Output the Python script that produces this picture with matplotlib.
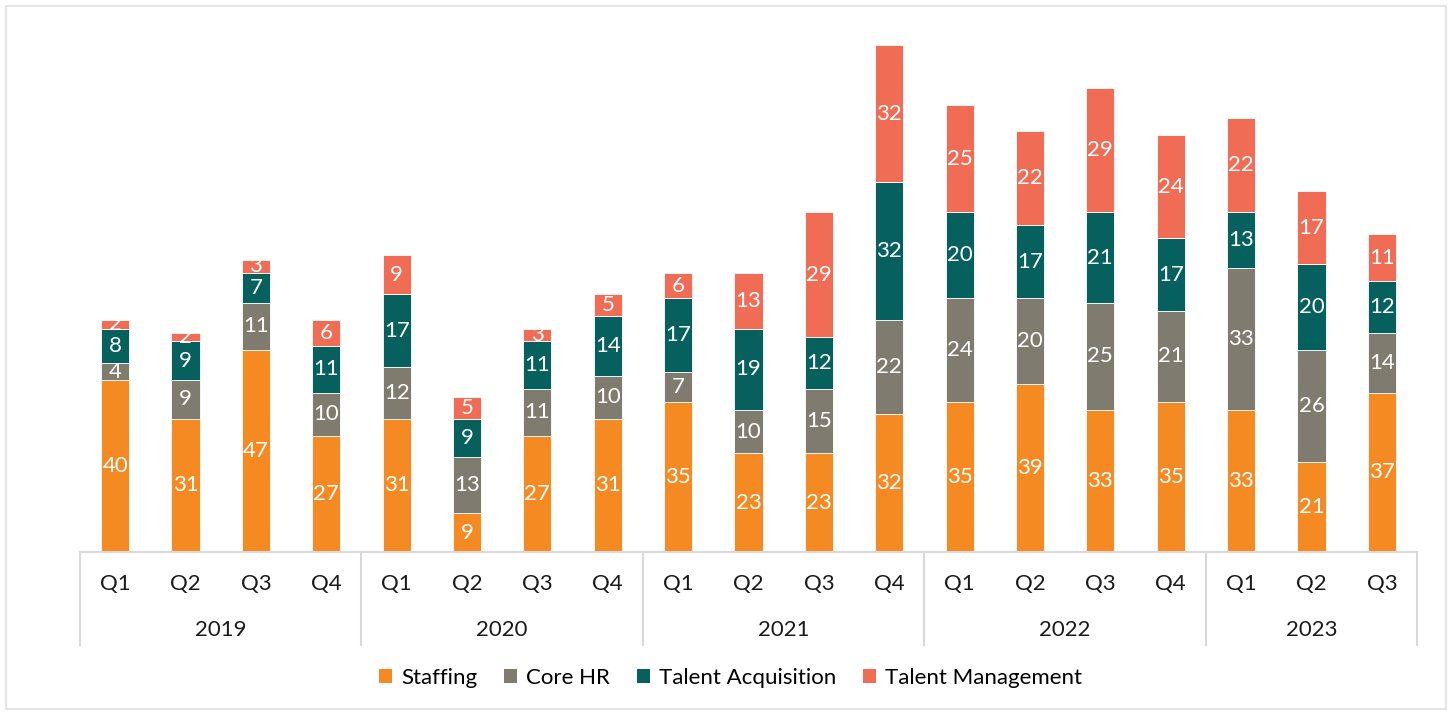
import numpy as np
import matplotlib.pyplot as plt
from matplotlib.patches import Patch, Rectangle
import matplotlib.transforms as mtransforms

plt.rcParams['font.family'] = ['Lato', 'DejaVu Sans']

years = ['2019', '2020', '2021', '2022', '2023']
quarters = ['Q1', 'Q2', 'Q3', 'Q4', 'Q1', 'Q2', 'Q3', 'Q4', 'Q1', 'Q2', 'Q3', 'Q4',
            'Q1', 'Q2', 'Q3', 'Q4', 'Q1', 'Q2', 'Q3']
quarters_per_year = [4, 4, 4, 4, 3]

staffing = [40, 31, 47, 27, 31, 9, 27, 31, 35, 23, 23, 32, 35, 39, 33, 35, 33, 21, 37]
core_hr = [4, 9, 11, 10, 12, 13, 11, 10, 7, 10, 15, 22, 24, 20, 25, 21, 33, 26, 14]
talent_acq = [8, 9, 7, 11, 17, 9, 11, 14, 17, 19, 12, 32, 20, 17, 21, 17, 13, 20, 12]
talent_mgmt = [2, 2, 3, 6, 9, 5, 3, 5, 6, 13, 29, 32, 25, 22, 29, 24, 22, 17, 11]

series = ['Staffing', 'Core HR', 'Talent Acquisition', 'Talent Management']
colors = ['#F58A23', '#7F7B6F', '#06605E', '#F06C55']

fig = plt.figure(figsize=(14.52, 7.15), dpi=100)
ax = fig.add_axes([80 / 1452, 1 - 552 / 715, 1337 / 1452, 520 / 715])

x = np.arange(len(quarters))
bottom = np.zeros(len(quarters))
for name, vals, c in zip(series, [staffing, core_hr, talent_acq, talent_mgmt], colors):
    vals = np.array(vals)
    ax.bar(x, vals, 0.4, bottom=bottom, color=c, edgecolor='white', linewidth=0.6, label=name)
    for xi, b, v in zip(x, bottom, vals):
        ax.text(xi, b + v / 2, str(v), ha='center', va='center', color='white', fontsize=16)
    bottom += vals

ax.set_xlim(-0.5, len(quarters) - 0.5)
ax.set_ylim(0, 121)
ax.set_yticks([])
ax.set_xticks([])
for s in ['top', 'right', 'left']:
    ax.spines[s].set_visible(False)
ax.spines['bottom'].set_color('#D9D9D9')
ax.spines['bottom'].set_linewidth(1.5)

trans = mtransforms.blended_transform_factory(ax.transData, ax.transAxes)
for xi, q in zip(x, quarters):
    ax.text(xi, -0.062, q, transform=trans, ha='center', va='center', fontsize=16, color='#1a1a1a')

edges = np.concatenate([[0], np.cumsum(quarters_per_year)]) - 0.5
for e in edges:
    ax.plot([e, e], [0, -0.179], transform=trans, color='#D9D9D9', lw=1.5, clip_on=False)
for i, y in enumerate(years):
    mid = (edges[i] + edges[i + 1]) / 2
    ax.text(mid, -0.15, y, transform=trans, ha='center', va='center', fontsize=16, color='#1a1a1a')

handles = [Patch(facecolor=c, label=n) for n, c in zip(series, colors)]
fig.legend(handles=handles, loc='center', bbox_to_anchor=(0.503, 1 - 678 / 715), ncol=4,
           frameon=False, fontsize=16, handlelength=0.6, handleheight=0.6,
           handletextpad=0.4, columnspacing=1.2)

fig.patches.append(Rectangle((6 / 1452, 6 / 715), 1440 / 1452, 703 / 715, transform=fig.transFigure,
                             fill=False, edgecolor='#E5E5E5', lw=1.5))

fig.savefig('out.png', dpi=100)
